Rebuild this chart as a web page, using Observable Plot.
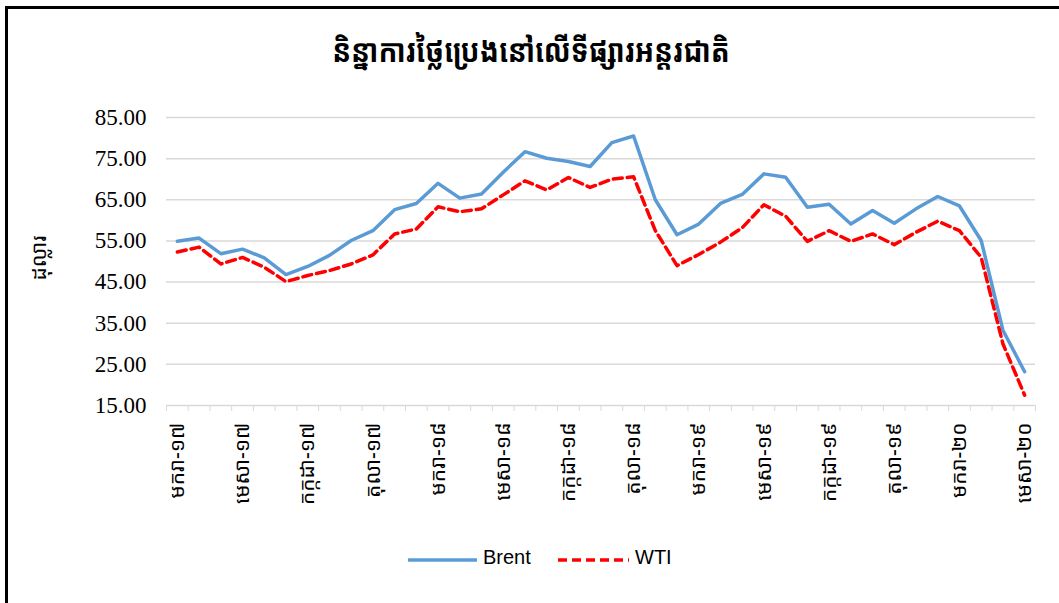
<!DOCTYPE html>
<html><head><meta charset="utf-8">
<script src="https://cdn.jsdelivr.net/npm/d3@7"></script>
<script src="https://cdn.jsdelivr.net/npm/@observablehq/plot@0.6"></script>
<style>
html,body{margin:0;padding:0;background:#fff;}
body{width:1059px;height:603px;overflow:hidden;position:relative;}
#frame{position:absolute;left:5px;top:6px;width:1100px;height:700px;border-top:3px solid #000;border-left:3px solid #000;}
#title{position:absolute;top:30px;left:0;width:1062px;text-align:center;font-size:28px;font-weight:bold;font-family:"Khmer OS Muol Light","Khmer OS","Noto Sans Khmer","Noto Sans",sans-serif;color:#000;transform:scaleY(1.15);}
#ylabel{position:absolute;left:38px;top:258px;transform:translate(-50%,-50%) rotate(-90deg);font-size:21px;font-family:"Khmer OS","Noto Sans Khmer","Noto Sans",sans-serif;white-space:nowrap;}
#chart{position:absolute;left:0;top:100px;}
.leg{position:absolute;top:546px;font-family:"Liberation Sans",Arial,sans-serif;font-size:20px;color:#000;}
.legsvg{position:absolute;top:552px;}
</style>
</head><body>
<div id="frame"></div>
<div id="title"></div>
<div id="ylabel"></div>
<div id="chart"></div>
<svg class="legsvg" style="left:406px" width="74" height="16"><line id="lb" x1="2" x2="71" y1="8" y2="8"/></svg>
<span class="leg" id="tb" style="left:483px"></span>
<svg class="legsvg" style="left:556px" width="76" height="16"><line id="lw" x1="2" x2="73" y1="8" y2="8"/></svg>
<span class="leg" id="tw" style="left:635px"></span>
<script>
const titleText = "និន្នាការថ្លៃប្រេងនៅលើទីផ្សារអន្តរជាតិ";
const yLabel = "ដុល្លារ";
const seriesNames = ["Brent", "WTI"];
const months = [
"មករា-១៧","កុម្ភៈ-១៧","មីនា-១៧","មេសា-១៧","ឧសភា-១៧","មិថុនា-១៧","កក្កដា-១៧","សីហា-១៧","កញ្ញា-១៧","តុលា-១៧","វិច្ឆិកា-១៧","ធ្នូ-១៧",
"មករា-១៨","កុម្ភៈ-១៨","មីនា-១៨","មេសា-១៨","ឧសភា-១៨","មិថុនា-១៨","កក្កដា-១៨","សីហា-១៨","កញ្ញា-១៨","តុលា-១៨","វិច្ឆិកា-១៨","ធ្នូ-១៨",
"មករា-១៩","កុម្ភៈ-១៩","មីនា-១៩","មេសា-១៩","ឧសភា-១៩","មិថុនា-១៩","កក្កដា-១៩","សីហា-១៩","កញ្ញា-១៩","តុលា-១៩","វិច្ឆិកា-១៩","ធ្នូ-១៩",
"មករា-២០","កុម្ភៈ-២០","មីនា-២០","មេសា-២០"];
const brent = [54.9,55.7,51.9,53.0,50.9,46.8,48.8,51.5,55.1,57.5,62.6,64.1,
69.0,65.4,66.4,71.7,76.7,75.1,74.3,73.1,78.9,80.5,65.0,56.5,
59.1,64.1,66.3,71.3,70.5,63.2,63.9,59.1,62.4,59.3,62.8,65.8,
63.5,55.1,33.3,23.2];
const wti = [52.3,53.5,49.4,51.0,48.6,45.1,46.6,47.8,49.4,51.6,56.7,57.9,
63.3,62.1,62.8,66.2,69.6,67.4,70.4,68.0,70.0,70.6,57.5,49.0,
51.7,54.7,58.2,63.8,61.0,54.9,57.5,54.9,56.7,54.1,57.1,59.8,
57.5,51.0,30.0,17.5];
const yTicks = [15,25,35,45,55,65,75,85];
const labelEvery = 3;

const colors = {Brent:"#5B9BD5", WTI:"#FF0000"};
const data = months.map((m,i)=>({i, m, brent:brent[i], wti:wti[i]}));
const labelIdx = months.map((m,i)=>i).filter(i=>i%labelEvery===0);
const bounds = months.map((m,i)=>i-0.5).concat([months.length-0.5]);

document.getElementById("title").textContent = titleText;
document.getElementById("ylabel").textContent = yLabel;
document.getElementById("tb").textContent = seriesNames[0];
document.getElementById("tw").textContent = seriesNames[1];
const lb = document.getElementById("lb");
lb.setAttribute("stroke", colors.Brent); lb.setAttribute("stroke-width","3.5");
const lw = document.getElementById("lw");
lw.setAttribute("stroke", colors.WTI); lw.setAttribute("stroke-width","3.5"); lw.setAttribute("stroke-dasharray","9,5");

const khmerFont = '"Khmer OS","Noto Sans Khmer","Noto Sans",sans-serif';
const chart = Plot.plot({
  width:1059, height:420,
  marginLeft:166, marginRight:24, marginTop:17, marginBottom:115,
  style:{background:"transparent", overflow:"visible"},
  x:{type:"linear", domain:[-0.5, months.length-0.5]},
  y:{domain:[15,85]},
  marks:[
    Plot.gridY(yTicks, {stroke:"#d9d9d9", strokeOpacity:1, strokeWidth:1.5}),
    Plot.axisY(yTicks, {tickSize:0, tickPadding:20, tickFormat:d=>d.toFixed(2), fontSize:23, fontFamily:"Liberation Serif, Times New Roman, serif", label:null, color:"#000"}),
    Plot.axisX(bounds, {tickSize:6, stroke:"#d9d9d9", strokeOpacity:1, tickFormat:()=>"", label:null}),
    Plot.axisX(labelIdx, {tickSize:0, tickRotate:-90, tickPadding:17, tickFormat:i=>months[i], fontSize:21, fontFamily:khmerFont, label:null, color:"#000"}),
    Plot.lineY(data, {x:"i", y:"brent", stroke:colors.Brent, strokeWidth:3.5}),
    Plot.lineY(data, {x:"i", y:"wti", stroke:colors.WTI, strokeWidth:3.5, strokeDasharray:"9,5"})
  ]
});
document.getElementById("chart").appendChild(chart);
</script>
</body></html>
